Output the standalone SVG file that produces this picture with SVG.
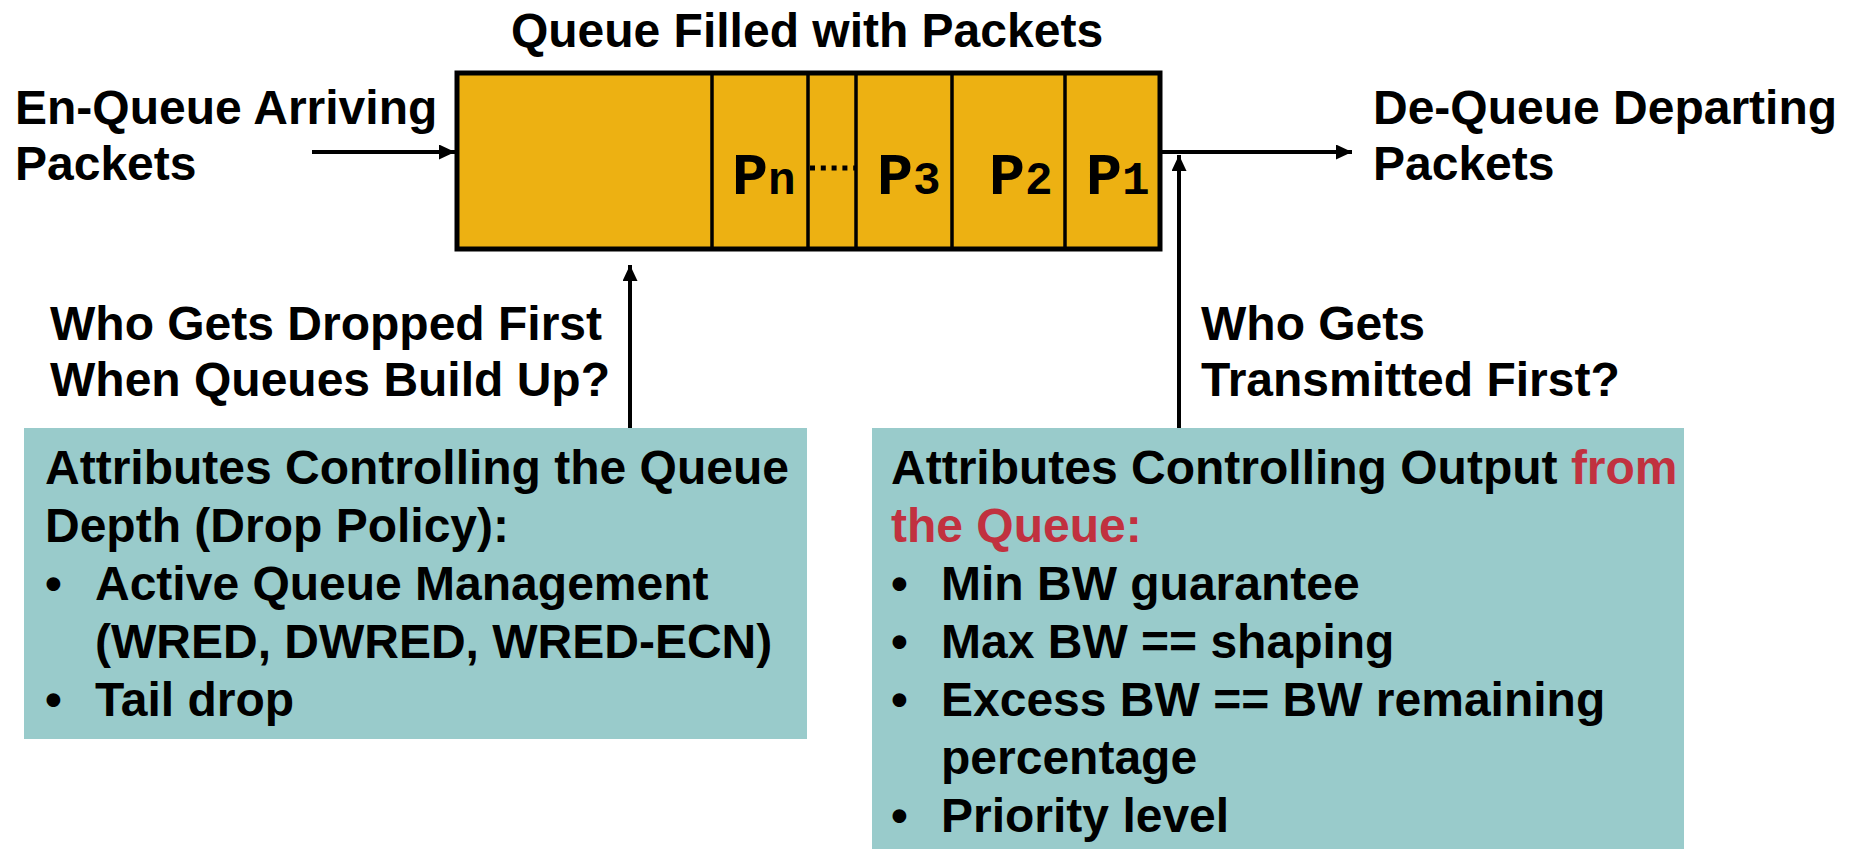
<svg xmlns="http://www.w3.org/2000/svg" width="1856" height="849" viewBox="0 0 1856 849">
  <style>
    .t { font-family: "Liberation Sans", Arial, sans-serif; font-weight: bold; font-size: 48px; fill: #000; }
    .red { fill: #C1313F; }
    .pk { font-family: "Liberation Mono", "Courier New", monospace; font-weight: bold; font-size: 60px; fill: #000; }
    .sub { font-size: 46px; }
    .box { fill: #99CBCB; }
    .conn { stroke: #000; stroke-width: 4; fill: none; }
    .div { stroke: #000; stroke-width: 3.5; }
  </style>
  <defs>
    <marker id="arrow" viewBox="0 0 16 15" refX="16" refY="7.5" markerWidth="16" markerHeight="15" orient="auto" markerUnits="userSpaceOnUse">
      <path d="M0,0 L16,7.5 L0,15 z" fill="#000"/>
    </marker>
  </defs>
  <rect width="1856" height="849" fill="#fff"/>

  <!-- queue with packets -->
  <g id="queue">
    <text class="t" x="807" y="47" text-anchor="middle">Queue Filled with Packets</text>
    <rect x="457" y="73" width="703" height="176" fill="#EDB112" stroke="#000" stroke-width="5"/>
    <line class="div" x1="712" y1="73" x2="712" y2="249"/>
    <line class="div" x1="808" y1="73" x2="808" y2="249"/>
    <line class="div" x1="856" y1="73" x2="856" y2="249"/>
    <line class="div" x1="952" y1="73" x2="952" y2="249"/>
    <line class="div" x1="1065" y1="73" x2="1065" y2="249"/>
    <line x1="810" y1="168" x2="856" y2="168" stroke="#000" stroke-width="5" stroke-dasharray="5 5.8"/>
    <text class="pk" x="732" y="194">P<tspan class="sub">n</tspan></text>
    <text class="pk" x="877" y="194">P<tspan class="sub">3</tspan></text>
    <text class="pk" x="989" y="194">P<tspan class="sub">2</tspan></text>
    <text class="pk" x="1086" y="194">P<tspan class="sub">1</tspan></text>
  </g>

  <g id="enqueue">
    <text class="t" x="15" y="124">En-Queue Arriving</text>
    <text class="t" x="15" y="180">Packets</text>
  </g>

  <g id="dequeue">
    <text class="t" x="1373" y="124">De-Queue Departing</text>
    <text class="t" x="1373" y="180">Packets</text>
  </g>

  <g id="drop-question">
    <text class="t" x="50" y="340">Who Gets Dropped First</text>
    <text class="t" x="50" y="396">When Queues Build Up?</text>
  </g>

  <g id="transmit-question">
    <text class="t" x="1201" y="340">Who Gets</text>
    <text class="t" x="1201" y="396">Transmitted First?</text>
  </g>

  <g id="drop-policy">
    <rect class="box" x="24" y="428" width="783" height="311"/>
    <text class="t" x="45" y="484">Attributes Controlling the Queue</text>
    <text class="t" x="45" y="542">Depth (Drop Policy):</text>
    <text class="t" x="45" y="600">•</text>
    <text class="t" x="95" y="600">Active Queue Management</text>
    <text class="t" x="95" y="658">(WRED, DWRED, WRED-ECN)</text>
    <text class="t" x="45" y="716">•</text>
    <text class="t" x="95" y="716">Tail drop</text>
  </g>

  <g id="output-policy">
    <rect class="box" x="872" y="428" width="812" height="421"/>
    <text class="t" x="891" y="484">Attributes Controlling Output <tspan class="red">from</tspan></text>
    <text class="t red" x="891" y="542">the Queue:</text>
    <text class="t" x="891" y="600">•</text>
    <text class="t" x="941" y="600">Min BW guarantee</text>
    <text class="t" x="891" y="658">•</text>
    <text class="t" x="941" y="658">Max BW == shaping</text>
    <text class="t" x="891" y="716">•</text>
    <text class="t" x="941" y="716">Excess BW == BW remaining</text>
    <text class="t" x="941" y="774">percentage</text>
    <text class="t" x="891" y="832">•</text>
    <text class="t" x="941" y="832">Priority level</text>
  </g>

  <g id="connectors">
    <line class="conn" x1="312" y1="152" x2="455" y2="152" marker-end="url(#arrow)"/>
    <line class="conn" x1="1160" y1="152" x2="1352" y2="152" marker-end="url(#arrow)"/>
    <line class="conn" x1="630" y1="428" x2="630" y2="265" marker-end="url(#arrow)"/>
    <line class="conn" x1="1179" y1="428" x2="1179" y2="155" marker-end="url(#arrow)"/>
  </g>
</svg>
